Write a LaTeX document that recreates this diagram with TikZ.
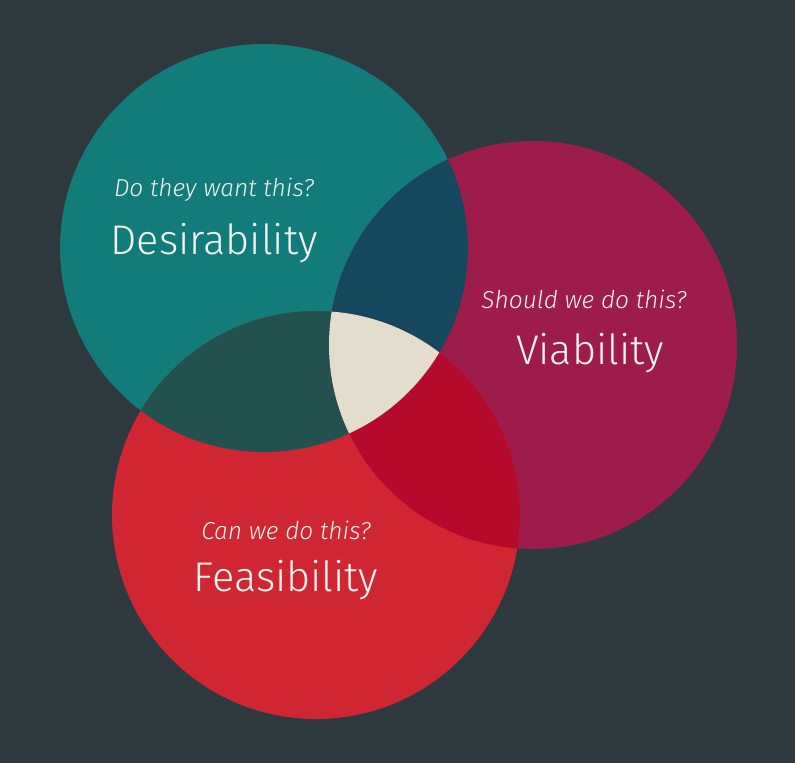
\documentclass[tikz,border=0pt]{standalone}
\usepackage{fontspec}
\setmainfont{Fira Sans Light}[ItalicFont={Fira Sans Light Italic}]
\definecolor{bg}{HTML}{2E393F}
\definecolor{teal}{HTML}{117C79}
\definecolor{mag}{HTML}{9D1C4C}
\definecolor{red}{HTML}{CF2632}
\definecolor{tm}{HTML}{15475F}
\definecolor{tr}{HTML}{22514F}
\definecolor{mr}{HTML}{B60A2D}
\definecolor{ctr}{HTML}{E2DDCD}
\definecolor{txt}{HTML}{F2F4F0}
\tikzset{
  question/.style={text=txt, font=\fontsize{24.5}{28}\selectfont\itshape, inner sep=0pt},
  title/.style={text=txt, font=\fontsize{41.5}{48}\selectfont, inner sep=0pt},
}
\begin{document}
\begin{tikzpicture}[x=1pt,y=-1pt]
\fill[bg] (0,0) rectangle (795,763);
\useasboundingbox (0,0) rectangle (795,763);
\def\R{204}
\coordinate (D) at (264,248);
\coordinate (V) at (533,345);
\coordinate (F) at (316,515);
\fill[teal] (D) circle (\R);
\fill[mag] (V) circle (\R);
\fill[red] (F) circle (\R);
\begin{scope}
  \clip (D) circle (\R);
  \fill[tm] (V) circle (\R);
  \fill[tr] (F) circle (\R);
\end{scope}
\begin{scope}
  \clip (V) circle (\R);
  \fill[mr] (F) circle (\R);
\end{scope}
\begin{scope}
  \clip (D) circle (\R);
  \clip (V) circle (\R);
  \fill[ctr] (F) circle (\R);
\end{scope}
\node[question] (qd) at (214,190) {Do they want this?};
\node[title] (td) at (214,243) {Desirability};
\node[question] (qv) at (584,299) {Should we do this?};
\node[title] (tv) at (590,353) {Viability};
\node[question] (qf) at (286,530) {Can we do this?};
\node[title] (tf) at (286,580) {Feasibility};
\end{tikzpicture}
\end{document}
